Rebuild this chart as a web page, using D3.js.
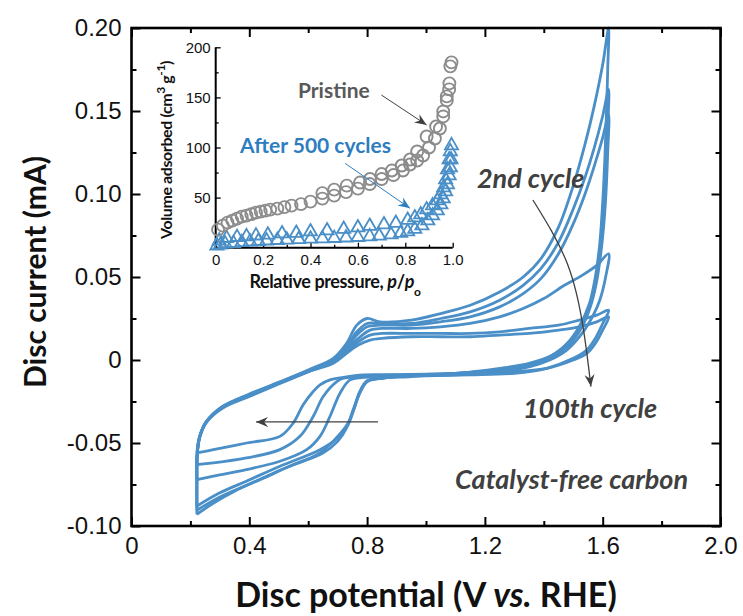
<!DOCTYPE html>
<html lang="en">
<head>
<meta charset="utf-8">
<title>Disc current vs potential</title>
<script src="https://d3js.org/d3.v7.min.js"></script>
<style>
body { margin: 0; background: #fff; }
svg text { font-family: "Liberation Sans", Arial, sans-serif; fill: #111; }
.ttl { font-family: Lato, "Open Sans", sans-serif; font-weight: 700; }
.note { font-family: Lato, "Open Sans", sans-serif; font-weight: 700; font-style: italic; fill: #404040; }
</style>
</head>
<body>
<div id="chart"></div>
<script>
// ---- main plot ticks ----
var xTicks = [0, 0.4, 0.8, 1.2, 1.6, 2.0];
var xTickLabels = ["0", "0.4", "0.8", "1.2", "1.6", "2.0"];
var xMinor = [0.2, 0.6, 1.0, 1.4, 1.8];
var yTicks = [-0.10, -0.05, 0, 0.05, 0.10, 0.15, 0.20];
var yTickLabels = ["-0.10", "-0.05", "0", "0.05", "0.10", "0.15", "0.20"];
var yMinor = [-0.075, -0.025, 0.025, 0.075, 0.125, 0.175];

// ---- CV loops [potential V, current mA], 2nd cycle ... 100th cycle ----
var cv1 = [[0.222,-0.093],[0.222,-0.075],[0.223,-0.058],[0.232,-0.046],[0.255,-0.037],[0.31,-0.028],[0.4,-0.021],[0.5,-0.0135],[0.6,-0.006],[0.685,0.001],[0.73,0.010],[0.765,0.021],[0.80,0.025],[0.844,0.023],[0.95,0.024],[1.05,0.028],[1.15,0.033],[1.25,0.041],[1.33,0.05],[1.39,0.061],[1.45,0.08],[1.5,0.105],[1.54,0.13],[1.57,0.152],[1.60,0.178],[1.62,0.2],
  [1.617,0.175],[1.613,0.15],[1.607,0.12],[1.6,0.095],[1.59,0.07],[1.575,0.05],[1.555,0.034],[1.52,0.02],[1.48,0.01],[1.42,0.002],[1.35,-0.003],[1.25,-0.006],[1.1,-0.008],[0.95,-0.01],[0.85,-0.011],[0.8,-0.013],[0.775,-0.02],[0.753,-0.03],[0.73,-0.041],[0.70,-0.049],[0.65,-0.056],[0.55,-0.063],[0.45,-0.071],[0.35,-0.079],[0.28,-0.086],[0.222,-0.093]];
var cv2 = [[0.222,-0.088],[0.222,-0.072],[0.223,-0.057],[0.232,-0.046],[0.255,-0.037],[0.31,-0.0285],[0.4,-0.0215],[0.5,-0.014],[0.6,-0.0065],[0.685,0.0],[0.73,0.008],[0.765,0.017],[0.80,0.022],[0.844,0.022],[0.95,0.022],[1.05,0.025],[1.15,0.029],[1.25,0.036],[1.33,0.045],[1.39,0.055],[1.45,0.071],[1.5,0.091],[1.54,0.11],[1.57,0.127],[1.6,0.147],[1.62,0.163],
  [1.617,0.14],[1.612,0.115],[1.605,0.092],[1.595,0.07],[1.58,0.05],[1.56,0.035],[1.53,0.022],[1.49,0.012],[1.43,0.003],[1.35,-0.002],[1.25,-0.005],[1.1,-0.008],[0.95,-0.009],[0.85,-0.011],[0.8,-0.013],[0.775,-0.02],[0.755,-0.03],[0.735,-0.039],[0.70,-0.047],[0.64,-0.054],[0.504,-0.064],[0.39,-0.073],[0.3,-0.08],[0.222,-0.088]];
var cv3 = [[0.222,-0.0905],[0.222,-0.073],[0.223,-0.057],[0.232,-0.0465],[0.255,-0.0375],[0.31,-0.029],[0.4,-0.022],[0.5,-0.0145],[0.6,-0.007],[0.685,-0.0005],[0.73,0.007],[0.765,0.015],[0.80,0.020],[0.844,0.021],[0.95,0.021],[1.05,0.023],[1.15,0.026],[1.25,0.032],[1.33,0.04],[1.39,0.049],[1.45,0.064],[1.5,0.082],[1.54,0.1],[1.57,0.116],[1.6,0.134],[1.62,0.148],
  [1.617,0.125],[1.611,0.1],[1.603,0.08],[1.592,0.062],[1.578,0.046],[1.558,0.032],[1.53,0.02],[1.49,0.01],[1.43,0.002],[1.35,-0.003],[1.25,-0.006],[1.1,-0.008],[0.95,-0.0095],[0.85,-0.011],[0.8,-0.0125],[0.775,-0.019],[0.755,-0.029],[0.735,-0.038],[0.70,-0.046],[0.64,-0.056],[0.504,-0.0665],[0.39,-0.0755],[0.3,-0.0825],[0.222,-0.0905]];
var cv4 = [[0.222,-0.072],[0.222,-0.064],[0.223,-0.056],[0.232,-0.046],[0.255,-0.037],[0.31,-0.028],[0.4,-0.021],[0.5,-0.014],[0.6,-0.007],[0.685,-0.001],[0.73,0.006],[0.77,0.013],[0.81,0.018],[0.85,0.019],[0.95,0.019],[1.05,0.020],[1.15,0.022],[1.25,0.026],[1.33,0.031],[1.4,0.037],[1.47,0.045],[1.53,0.051],[1.58,0.057],[1.62,0.064],
  [1.61,0.05],[1.59,0.036],[1.568,0.027],[1.53,0.016],[1.478,0.006],[1.42,0.0],[1.353,-0.004],[1.25,-0.007],[1.1,-0.009],[0.95,-0.0095],[0.85,-0.010],[0.787,-0.0105],[0.742,-0.012],[0.708,-0.020],[0.674,-0.034],[0.64,-0.046],[0.595,-0.054],[0.504,-0.061],[0.39,-0.066],[0.278,-0.070],[0.222,-0.072]];
var cv5 = [[0.222,-0.063],[0.223,-0.056],[0.232,-0.046],[0.255,-0.037],[0.31,-0.028],[0.4,-0.0205],[0.5,-0.0135],[0.6,-0.0065],[0.685,-0.001],[0.73,0.005],[0.77,0.011],[0.81,0.015],[0.85,0.016],[0.95,0.016],[1.05,0.016],[1.15,0.016],[1.25,0.017],[1.35,0.019],[1.45,0.021],[1.52,0.024],[1.58,0.027],[1.62,0.030],
  [1.60,0.022],[1.575,0.013],[1.546,0.006],[1.5,0.001],[1.41,-0.005],[1.3,-0.008],[1.15,-0.009],[1.0,-0.0095],[0.85,-0.0095],[0.787,-0.0098],[0.72,-0.011],[0.697,-0.013],[0.651,-0.022],[0.617,-0.034],[0.572,-0.046],[0.504,-0.054],[0.39,-0.059],[0.278,-0.062],[0.222,-0.063]];
var cv6 = [[0.222,-0.056],[0.226,-0.05],[0.235,-0.044],[0.255,-0.037],[0.31,-0.0285],[0.4,-0.021],[0.5,-0.014],[0.6,-0.007],[0.685,-0.002],[0.73,0.004],[0.77,0.009],[0.81,0.012],[0.85,0.013],[0.95,0.014],[1.05,0.014],[1.15,0.014],[1.25,0.015],[1.35,0.016],[1.45,0.018],[1.52,0.020],[1.58,0.023],[1.62,0.026],
  [1.60,0.018],[1.575,0.010],[1.546,0.004],[1.5,0.0],[1.41,-0.005],[1.3,-0.007],[1.15,-0.008],[1.0,-0.0085],[0.85,-0.0088],[0.787,-0.009],[0.72,-0.0105],[0.674,-0.012],[0.64,-0.015],[0.617,-0.019],[0.583,-0.027],[0.549,-0.038],[0.504,-0.046],[0.391,-0.050],[0.278,-0.054],[0.222,-0.056]];

// ---- inset: N2 isotherms [p/po, cm3/g] ----
var inXTicks = [0, 0.2, 0.4, 0.6, 0.8, 1.0];
var inXTickLabels = ["0", "0.2", "0.4", "0.6", "0.8", "1.0"];
var inXMinor = [0.1, 0.3, 0.5, 0.7, 0.9];
var inYTicks = [50, 100, 150, 200];
var inYMinor = [25, 75, 125, 175];

var pristineAds = [[0.01,18],[0.03,22],[0.05,25],[0.07,27],[0.09,29],[0.11,31],[0.13,32],[0.15,33.5],[0.17,35],[0.19,36],[0.21,37],[0.23,38],[0.26,39],[0.29,40.5],[0.32,42],[0.36,43.5],[0.4,46],[0.45,49],[0.5,52],[0.55,55.5],[0.6,59],[0.65,63.5],[0.7,68.5],[0.75,72.5],[0.79,77],[0.82,83],[0.85,87],[0.875,92],[0.9,100],[0.925,109],[0.946,119],[0.96,131],[0.975,147],[0.986,164],[0.99,181]];
var pristineDes = [[0.995,185],[0.985,158],[0.975,151],[0.96,136],[0.93,121],[0.89,111],[0.85,96],[0.82,88],[0.785,82],[0.743,77],[0.70,73.5],[0.651,68.6],[0.609,65],[0.553,62],[0.5,58],[0.45,54.5]];
var cycledAds = [[0.005,2],[0.02,3],[0.04,4],[0.075,4.5],[0.11,5.3],[0.145,6],[0.18,6.5],[0.215,7],[0.26,7.5],[0.3,7.8],[0.35,8.3],[0.4,8.8],[0.45,9.2],[0.5,9.5],[0.55,10],[0.6,10.5],[0.65,11.2],[0.69,11.8],[0.74,13],[0.78,14.5],[0.81,16],[0.84,18.5],[0.87,22],[0.895,27],[0.915,32],[0.935,37],[0.95,43],[0.96,49],[0.97,56],[0.978,63],[0.985,72],[0.99,80],[0.993,88]];
var cycledDes = [[0.995,102],[0.99,96],[0.985,88],[0.978,78],[0.97,68],[0.962,60],[0.95,53],[0.935,47],[0.915,42],[0.89,38],[0.865,33],[0.84,30],[0.81,27.5],[0.76,24.5],[0.71,23],[0.65,21.5],[0.6,20],[0.54,18.5],[0.47,17],[0.4,16],[0.34,14.5],[0.28,14],[0.22,12.8],[0.17,12],[0.13,11.2],[0.09,10.5],[0.046,9.5],[0.015,7]];

var width = 743, height = 616;
var cvBlue = "#4a8fc7";

var svg = d3.select("#chart").append("svg")
    .attr("width", width)
    .attr("height", height);

var defs = svg.append("defs");
function marker(id, color) {
    defs.append("marker")
        .attr("id", id)
        .attr("viewBox", "-12 -6 14 12")
        .attr("markerWidth", 14).attr("markerHeight", 12)
        .attr("markerUnits", "userSpaceOnUse")
        .attr("orient", "auto")
        .append("path")
        .attr("d", "M0,0 L-12,-5 L-8,0 L-12,5 Z")
        .attr("fill", color);
}
marker("headGray", "#404040");
marker("headBlue", "#2e7dc0");

var x = d3.scaleLinear().domain([0, 2]).range([131.5, 720.5]);
var y = d3.scaleLinear().domain([-0.1, 0.2]).range([526, 28]);

// CV loops
var line = d3.line()
    .x(function(d) { return x(d[0]); })
    .y(function(d) { return y(d[1]); })
    .curve(d3.curveCatmullRom.alpha(0.5));

svg.append("g").selectAll("path")
    .data([cv6, cv5, cv4, cv3, cv2, cv1])
    .join("path")
    .attr("d", line)
    .attr("fill", "none")
    .attr("stroke", cvBlue)
    .attr("stroke-width", 2.8)
    .attr("stroke-linejoin", "round");

// axes (ticks inward on all four sides)
function styleAxis(g) {
    g.select(".domain").remove();
    g.selectAll(".tick line").attr("stroke", "#000").attr("stroke-width", 2);
    g.selectAll(".tick text").style("font-size", "24px").attr("fill", "#111");
}
svg.append("g").attr("transform", "translate(0,526)")
    .call(d3.axisBottom(x).tickValues(xTicks).tickFormat(function(d, i) { return xTickLabels[i]; })
        .tickSizeInner(-9).tickSizeOuter(0).tickPadding(11))
    .call(styleAxis);
svg.append("g").attr("transform", "translate(0,526)")
    .call(d3.axisBottom(x).tickValues(xMinor).tickFormat("").tickSizeInner(-5).tickSizeOuter(0))
    .call(styleAxis);
svg.append("g").attr("transform", "translate(0,28)")
    .call(d3.axisTop(x).tickValues(xTicks).tickFormat("").tickSizeInner(-9).tickSizeOuter(0))
    .call(styleAxis);
svg.append("g").attr("transform", "translate(0,28)")
    .call(d3.axisTop(x).tickValues(xMinor).tickFormat("").tickSizeInner(-5).tickSizeOuter(0))
    .call(styleAxis);
svg.append("g").attr("transform", "translate(131.5,0)")
    .call(d3.axisLeft(y).tickValues(yTicks).tickFormat(function(d, i) { return yTickLabels[i]; })
        .tickSizeInner(-9).tickSizeOuter(0).tickPadding(10))
    .call(styleAxis);
svg.append("g").attr("transform", "translate(131.5,0)")
    .call(d3.axisLeft(y).tickValues(yMinor).tickFormat("").tickSizeInner(-5).tickSizeOuter(0))
    .call(styleAxis);
svg.append("g").attr("transform", "translate(720.5,0)")
    .call(d3.axisRight(y).tickValues(yTicks).tickFormat("").tickSizeInner(-9).tickSizeOuter(0))
    .call(styleAxis);
svg.append("g").attr("transform", "translate(720.5,0)")
    .call(d3.axisRight(y).tickValues(yMinor).tickFormat("").tickSizeInner(-5).tickSizeOuter(0))
    .call(styleAxis);

svg.append("rect")
    .attr("x", x(0)).attr("y", y(0.2))
    .attr("width", x(2) - x(0)).attr("height", y(-0.1) - y(0.2))
    .attr("fill", "none").attr("stroke", "#000").attr("stroke-width", 2.6);

// axis titles
svg.append("text").attr("class", "ttl")
    .attr("x", 426).attr("y", 607)
    .attr("text-anchor", "middle")
    .style("font-size", "34px")
    .html('Disc potential (V <tspan font-style="italic">vs.</tspan> RHE)');
svg.append("text").attr("class", "ttl")
    .attr("transform", "translate(46,272) rotate(-90)")
    .attr("text-anchor", "middle")
    .style("font-size", "30px")
    .text("Disc current (mA)");

// annotations
svg.append("text").attr("class", "note")
    .attr("x", x(1.173)).attr("y", y(0.1036))
    .style("font-size", "27px").text("2nd cycle");
svg.append("text").attr("class", "note")
    .attr("x", x(1.329)).attr("y", y(-0.035))
    .style("font-size", "27px").text("100th cycle");
svg.append("text").attr("class", "note")
    .attr("x", x(1.89)).attr("y", y(-0.0777))
    .attr("text-anchor", "end")
    .style("font-size", "27px").text("Catalyst-free carbon");

var curveArrow = [[1.363, 0.0964], [1.48, 0.058], [1.535, 0.018], [1.56, -0.016]];
svg.append("path")
    .attr("d", d3.line().x(function(d) { return x(d[0]); }).y(function(d) { return y(d[1]); })
        .curve(d3.curveNatural)(curveArrow))
    .attr("fill", "none").attr("stroke", "#404040").attr("stroke-width", 1.3)
    .attr("marker-end", "url(#headGray)");
svg.append("line")
    .attr("x1", x(0.837)).attr("y1", y(-0.0373))
    .attr("x2", x(0.423)).attr("y2", y(-0.0373))
    .attr("stroke", "#404040").attr("stroke-width", 1.3)
    .attr("marker-end", "url(#headGray)");

// ---- inset ----
var xi = d3.scaleLinear().domain([0, 1]).range([215.7, 452.7]);
var yi = d3.scaleLinear().domain([0, 200]).range([247.7, 47.3]);
var inset = svg.append("g");

function styleInset(g) {
    g.select(".domain").remove();
    g.selectAll(".tick line").attr("stroke", "#000").attr("stroke-width", 1.3);
    g.selectAll(".tick text").style("font-size", "15px").attr("fill", "#222");
}
inset.append("g").attr("transform", "translate(0,247.7)")
    .call(d3.axisBottom(xi).tickValues(inXTicks).tickFormat(function(d, i) { return inXTickLabels[i]; })
        .tickSizeInner(-5).tickSizeOuter(0).tickPadding(7))
    .call(styleInset);
inset.append("g").attr("transform", "translate(0,247.7)")
    .call(d3.axisBottom(xi).tickValues(inXMinor).tickFormat("").tickSizeInner(-3).tickSizeOuter(0))
    .call(styleInset);
inset.append("g").attr("transform", "translate(215.7,0)")
    .call(d3.axisLeft(yi).tickValues(inYTicks).tickSizeInner(-5).tickSizeOuter(0).tickPadding(5))
    .call(styleInset);
inset.append("g").attr("transform", "translate(215.7,0)")
    .call(d3.axisLeft(yi).tickValues(inYMinor).tickFormat("").tickSizeInner(-3).tickSizeOuter(0))
    .call(styleInset);
inset.append("path")
    .attr("d", "M" + xi(0) + "," + yi(200) + "V" + yi(0) + "H" + xi(1))
    .attr("fill", "none").attr("stroke", "#000").attr("stroke-width", 2);

var circleSym = d3.symbol(d3.symbolCircle, 113);
var triSym = d3.symbol(d3.symbolTriangle, 75);

inset.append("g").selectAll("path")
    .data(cycledAds.concat(cycledDes))
    .join("path")
    .attr("transform", function(d) { return "translate(" + xi(d[0]) + "," + yi(d[1]) + ")"; })
    .attr("d", triSym)
    .attr("fill", "none").attr("stroke", cvBlue).attr("stroke-width", 1.8);
inset.append("g").selectAll("path")
    .data(pristineAds.concat(pristineDes))
    .join("path")
    .attr("transform", function(d) { return "translate(" + xi(d[0]) + "," + yi(d[1]) + ")"; })
    .attr("d", circleSym)
    .attr("fill", "none").attr("stroke", "#8c8c8c").attr("stroke-width", 1.9);

inset.append("text").attr("class", "ttl")
    .attr("transform", "translate(172,150) rotate(-90)")
    .attr("text-anchor", "middle")
    .style("font-size", "16px").style("letter-spacing", "-0.4px")
    .html('Volume adsorbed (cm<tspan baseline-shift="super" font-size="12px">3</tspan> g<tspan baseline-shift="super" font-size="12px">-1</tspan>)');
inset.append("text").attr("class", "ttl")
    .attr("x", 335).attr("y", 288)
    .attr("text-anchor", "middle")
    .style("font-size", "18px").style("letter-spacing", "-0.4px")
    .html('Relative pressure, <tspan font-style="italic">p</tspan>/<tspan font-style="italic">p</tspan><tspan baseline-shift="sub" font-size="12px">o</tspan>');

inset.append("text").attr("class", "ttl")
    .attr("x", xi(0.347)).attr("y", yi(149.4))
    .style("font-size", "21px").style("fill", "#595959")
    .text("Pristine");
inset.append("line")
    .attr("x1", xi(0.699)).attr("y1", yi(152.4))
    .attr("x2", xi(0.89)).attr("y2", yi(122.5))
    .attr("stroke", "#404040").attr("stroke-width", 1)
    .attr("marker-end", "url(#headGray)");
inset.append("text").attr("class", "ttl")
    .attr("x", xi(0.103)).attr("y", yi(94.5))
    .style("font-size", "21px").style("fill", "#2e7dc0")
    .text("After 500 cycles");
inset.append("line")
    .attr("x1", xi(0.546)).attr("y1", yi(84.2))
    .attr("x2", xi(0.82)).attr("y2", yi(39.3))
    .attr("stroke", "#2e7dc0").attr("stroke-width", 1)
    .attr("marker-end", "url(#headBlue)");
</script>
</body>
</html>
